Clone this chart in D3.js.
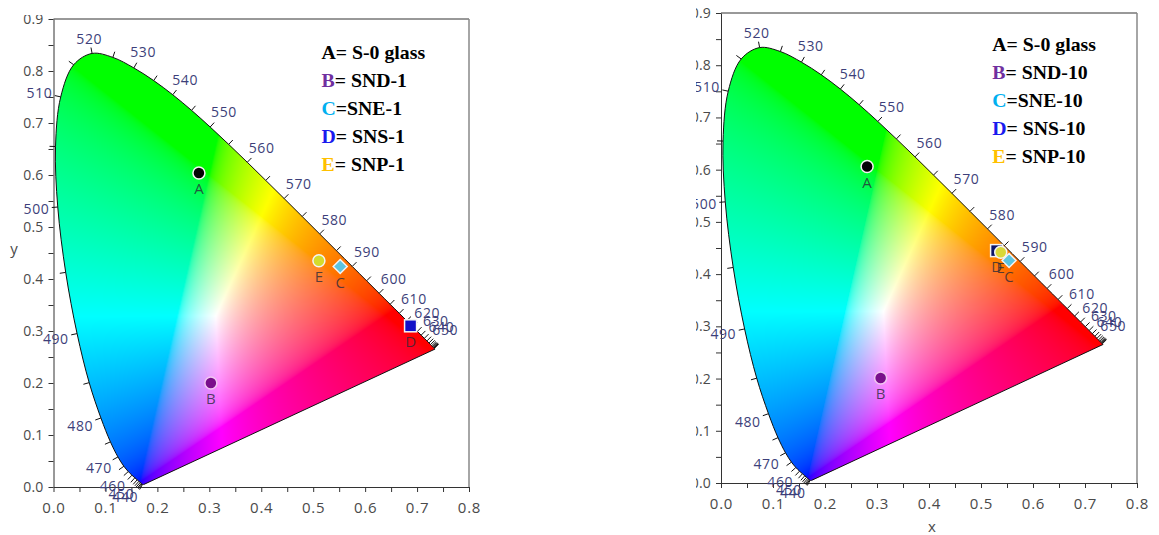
<!DOCTYPE html>
<html><head><meta charset="utf-8">
<script src="https://cdn.jsdelivr.net/npm/d3@7"></script>
<style>body{margin:0;background:#fff;} svg{display:block;}</style>
</head><body>
<svg id="c" width="1159" height="535"></svg>
<script>
// CIE 1931 2° spectral locus (chromaticity x, y) at 5 nm steps
const wavelengths = [380,385,390,395,400,405,410,415,420,425,430,435,440,445,450,455,460,465,470,475,480,485,490,495,500,505,510,515,520,525,530,535,540,545,550,555,560,565,570,575,580,585,590,595,600,605,610,615,620,625,630,635,640,645,650,655,660,665,670,675,680,685,690,695,700];
const locusX = [0.1741,0.1740,0.1738,0.1736,0.1733,0.1730,0.1726,0.1721,0.1714,0.1703,0.1689,0.1669,0.1644,0.1611,0.1566,0.1510,0.1440,0.1355,0.1241,0.1096,0.0913,0.0687,0.0454,0.0235,0.0082,0.0039,0.0139,0.0389,0.0743,0.1142,0.1547,0.1929,0.2296,0.2658,0.3016,0.3373,0.3731,0.4087,0.4441,0.4788,0.5125,0.5448,0.5752,0.6029,0.6270,0.6482,0.6658,0.6801,0.6915,0.7006,0.7079,0.7140,0.7190,0.7230,0.7260,0.7283,0.7300,0.7311,0.7320,0.7327,0.7334,0.7340,0.7344,0.7346,0.7347];
const locusY = [0.0050,0.0050,0.0049,0.0049,0.0048,0.0048,0.0048,0.0048,0.0051,0.0058,0.0069,0.0086,0.0109,0.0138,0.0177,0.0227,0.0297,0.0399,0.0578,0.0868,0.1327,0.2007,0.2950,0.4127,0.5384,0.6548,0.7502,0.8120,0.8338,0.8262,0.8059,0.7816,0.7543,0.7243,0.6923,0.6589,0.6245,0.5896,0.5547,0.5202,0.4866,0.4544,0.4242,0.3965,0.3725,0.3514,0.3340,0.3197,0.3083,0.2993,0.2920,0.2859,0.2809,0.2770,0.2740,0.2717,0.2700,0.2689,0.2680,0.2673,0.2666,0.2660,0.2656,0.2654,0.2653];
const labelWavelengths = [440,450,460,470,480,490,500,510,520,530,540,550,560,570,580,590,600,610,620,630,640,650];

const xTickLabels = [0.0,0.1,0.2,0.3,0.4,0.5,0.6,0.7,0.8];
const yTickLabels = [0.0,0.1,0.2,0.3,0.4,0.5,0.6,0.7,0.8,0.9];

const pointNames = ["A","B","C","D","E"];
const pointShapes = ["circle","circle","diamond","square","circle"];
const leftPointX = [0.280,0.303,0.552,0.6875,0.511];
const leftPointY = [0.604,0.200,0.424,0.310,0.435];
const leftPointFill = ["#050505","#7a0f8c","#5cc4e0","#1010c8","#d4dc2c"];
const rightPointX = [0.281,0.307,0.554,0.530,0.538];
const rightPointY = [0.606,0.201,0.426,0.445,0.442];
const rightPointFill = ["#050505","#7a0f8c","#5cc4e0","#0c1466","#d8d838"];
const drawOrder = [0,1,3,4,2];

const legendLetters = ["A","B","C","D","E"];
const legendLetterColors = ["#000000","#7030a0","#00b0f0","#1a1aee","#ffc000"];
const leftLegendText = ["= S-0 glass","= SND-1","=SNE-1","= SNS-1","= SNP-1"];
const rightLegendText = ["= S-0 glass","= SND-10","=SNE-10","= SNS-10","= SNP-10"];

const svg = d3.select("#c");
const defs = svg.append("defs");

// display primaries (xy) and white point used for the colour fill
const primR = [0.64,0.33], primG = [0.30,0.60], primB = [0.166,0.009], whiteXYZ = [0.9505,1.0,1.089];
function inv3(m){
  const [a,b,c,d,e,f,g,h,i] = m;
  const A=e*i-f*h, B=-(d*i-f*g), C=d*h-e*g;
  const det = a*A + b*B + c*C;
  return [A/det, -(b*i-c*h)/det, (b*f-c*e)/det,
          B/det, (a*i-c*g)/det, -(a*f-c*d)/det,
          C/det, -(a*h-b*g)/det, (a*e-b*d)/det];
}
const col = p => [p[0]/p[1], 1, (1-p[0]-p[1])/p[1]];
const cr = col(primR), cg = col(primG), cb = col(primB);
const P = [cr[0],cg[0],cb[0], cr[1],cg[1],cb[1], cr[2],cg[2],cb[2]];
const Pi = inv3(P);
const S = [0,1,2].map(r=>Pi[r*3]*whiteXYZ[0]+Pi[r*3+1]*whiteXYZ[1]+Pi[r*3+2]*whiteXYZ[2]);
const M = [P[0]*S[0],P[1]*S[1],P[2]*S[2], P[3]*S[0],P[4]*S[1],P[5]*S[2], P[6]*S[0],P[7]*S[1],P[8]*S[2]];
const Mi = inv3(M);

function gamma(v){ return v <= 0.0031308 ? 12.92*v : 1.055*Math.pow(v,1/2.4)-0.055; }
function xyToRGB(x,y){
  const X = x/y, Y = 1, Z = (1-x-y)/y;
  let r = Mi[0]*X + Mi[1]*Y + Mi[2]*Z;
  let g = Mi[3]*X + Mi[4]*Y + Mi[5]*Z;
  let b = Mi[6]*X + Mi[7]*Y + Mi[8]*Z;
  r = Math.max(r,0); g = Math.max(g,0); b = Math.max(b,0);
  const m = Math.max(r,g,b) || 1;
  return [gamma(r/m)*255, gamma(g/m)*255, gamma(b/m)*255];
}

function drawChart(cfg){
  const {id, x0, x1, yBottom, yTop, pointX, pointY, pointFill, legendText, legendX, legendY, clip, xLabel, yLabel} = cfg;
  const xs = d3.scaleLinear().domain([0,0.8]).range([x0,x1]);
  const ys = d3.scaleLinear().domain([0,0.9]).range([yBottom,yTop]);

  defs.append("clipPath").attr("id","clipAll"+id).append("rect")
    .attr("x",clip[0]).attr("y",clip[1]).attr("width",clip[2]).attr("height",clip[3]);
  const g = svg.append("g").attr("clip-path",`url(#clipAll${id})`);

  const idx = d3.range(wavelengths.length);
  const line = d3.line().x(i=>xs(locusX[i])).y(i=>ys(locusY[i])).curve(d3.curveCatmullRom.alpha(0.5));
  const locusPath = line(idx) + "Z";
  defs.append("clipPath").attr("id","locus"+id).append("path").attr("d",locusPath);

  // gradient fill image
  const W = Math.round(x1-x0), H = Math.round(yBottom-yTop);
  const cv = document.createElement("canvas");
  cv.width = W; cv.height = H;
  const ctx = cv.getContext("2d");
  const img = ctx.createImageData(W,H);
  for(let j=0;j<H;j++){
    const yy = ys.invert(yTop + j + 0.5);
    for(let i=0;i<W;i++){
      const xx = xs.invert(x0 + i + 0.5);
      const k = (j*W+i)*4;
      if(xx < 0){ img.data[k+3]=0; continue; }
      const c = xyToRGB(xx, Math.max(yy,0.004));
      img.data[k]=c[0]; img.data[k+1]=c[1]; img.data[k+2]=c[2]; img.data[k+3]=255;
    }
  }
  ctx.putImageData(img,0,0);
  g.append("image").attr("href",cv.toDataURL()).attr("x",x0).attr("y",yTop)
    .attr("width",W).attr("height",H).attr("preserveAspectRatio","none")
    .attr("clip-path",`url(#locus${id})`);
  g.append("path").attr("d",locusPath).attr("fill","none").attr("stroke","#111").attr("stroke-width",1);

  // axes
  const fmt = v => xTickLabels.concat(yTickLabels).some(t=>Math.abs(t-v)<1e-6) ? d3.format(".1f")(v) : "";
  const xAxis = d3.axisBottom(xs).tickValues(d3.range(0,17).map(i=>i*0.05)).tickFormat(fmt)
    .tickSize(5).tickSizeOuter(0).tickPadding(10);
  const yAxis = d3.axisLeft(ys).tickValues(d3.range(0,19).map(i=>i*0.05)).tickFormat(fmt)
    .tickSize(5).tickSizeOuter(0).tickPadding(5);
  const gx = g.append("g").attr("transform",`translate(0,${yBottom})`).call(xAxis);
  const gy = g.append("g").attr("transform",`translate(${x0},0)`).call(yAxis);
  [gx,gy].forEach(a=>{
    a.selectAll("path,line").attr("stroke","#333");
    a.selectAll("text").attr("fill","#4a4a4a").style("font-family","'Open Sans'");
  });
  gx.selectAll("text").style("font-size","15px").style("letter-spacing","0.8px");
  gy.selectAll("text").style("font-size","14px").style("letter-spacing","0.2px");
  g.append("line").attr("x1",x0).attr("x2",x1).attr("y1",yTop).attr("y2",yTop).attr("stroke","#333");
  g.append("line").attr("x1",x1).attr("x2",x1).attr("y1",yTop).attr("y2",yBottom).attr("stroke","#888").attr("stroke-width",1.5);
  if(xLabel) g.append("text").attr("x",xLabel[0]).attr("y",xLabel[1]).attr("text-anchor","middle")
    .attr("dominant-baseline","central").attr("fill","#4a4a4a").style("font-family","'Open Sans'").style("font-size","15px").text("x");
  if(yLabel) g.append("text").attr("x",yLabel[0]).attr("y",yLabel[1]).attr("text-anchor","middle")
    .attr("dominant-baseline","central").attr("fill","#4a4a4a").style("font-family","'Open Sans'").style("font-size","15px").text("y");

  // wavelength ticks + labels
  function normalAt(i){
    const a = Math.max(i-1,0), b = Math.min(i+1,wavelengths.length-1);
    let dX = xs(locusX[b])-xs(locusX[a]), dY = ys(locusY[b])-ys(locusY[a]);
    let nx = dY, ny = -dX; const L = Math.hypot(nx,ny) || 1;
    return [nx/L, ny/L];
  }
  const tg = g.append("g");
  idx.forEach(i=>{
    const w = wavelengths[i];
    if(w < 420 || w > 680) return;
    const [nx,ny] = normalAt(i);
    const px = xs(locusX[i]), py = ys(locusY[i]);
    tg.append("line").attr("x1",px).attr("y1",py).attr("x2",px+nx*6).attr("y2",py+ny*6)
      .attr("stroke","#111").attr("stroke-width",1);
  });
  labelWavelengths.forEach(w=>{
    const i = wavelengths.indexOf(w);
    const [nx,ny] = normalAt(i);
    const px = xs(locusX[i]), py = ys(locusY[i]);
    const d = 8 + 13*Math.abs(nx) + 5*Math.abs(ny);
    tg.append("text").attr("x",px+nx*d).attr("y",py+ny*d).attr("text-anchor","middle")
      .attr("dominant-baseline","central").attr("fill","#3d3f7a").style("letter-spacing","0.6px")
      .style("font-family","'Open Sans'").style("font-size","14px").text(w);
  });

  // points
  const pg = g.append("g");
  drawOrder.forEach(i=>{
    const px = xs(pointX[i]), py = ys(pointY[i]);
    const stroke = i===1 ? "#f0c8f0" : "#f4f4f4";
    if(pointShapes[i]==="circle"){
      pg.append("circle").attr("cx",px).attr("cy",py).attr("r",6).attr("fill",pointFill[i]).attr("stroke",stroke).attr("stroke-width",1.5);
    } else if(pointShapes[i]==="square"){
      pg.append("rect").attr("x",px-6).attr("y",py-6).attr("width",12).attr("height",12).attr("fill",pointFill[i]).attr("stroke",stroke).attr("stroke-width",1.5);
    } else {
      pg.append("path").attr("d",`M${px},${py-7}L${px+7},${py}L${px},${py+7}L${px-7},${py}Z`).attr("fill",pointFill[i]).attr("stroke",stroke).attr("stroke-width",1.5);
    }
  });
  pointNames.forEach((n,i)=>{
    const px = xs(pointX[i]), py = ys(pointY[i]);
    pg.append("text").attr("x",px).attr("y",py+15).attr("text-anchor","middle").attr("dominant-baseline","central")
      .attr("fill","#2a2a3a").attr("fill-opacity",0.78).style("font-family","'Open Sans'").style("font-size","15px").text(n);
  });

  // legend
  const lg = g.append("g");
  legendLetters.forEach((L,i)=>{
    const t = lg.append("text").attr("transform",`translate(${legendX},${legendY + i*28.2}) scale(1.1,1)`)
      .style("font-family","'Liberation Serif','Times New Roman',serif").style("font-weight","bold").style("font-size","18px");
    t.append("tspan").attr("fill",legendLetterColors[i]).text(L);
    t.append("tspan").attr("fill","#000").text(legendText[i]);
  });
}

drawChart({id:"L", x0:53.5, x1:469, yBottom:487, yTop:19,
  pointX:leftPointX, pointY:leftPointY, pointFill:leftPointFill, legendText:leftLegendText,
  legendX:321.5, legendY:58.5, clip:[0,15,600,520], xLabel:null, yLabel:[14,248]});
drawChart({id:"R", x0:721, x1:1137, yBottom:483, yTop:13,
  pointX:rightPointX, pointY:rightPointY, pointFill:rightPointFill, legendText:rightLegendText,
  legendX:992.3, legendY:50.5, clip:[696,0,463,535], xLabel:[932,526], yLabel:null});
</script>
</body></html>
